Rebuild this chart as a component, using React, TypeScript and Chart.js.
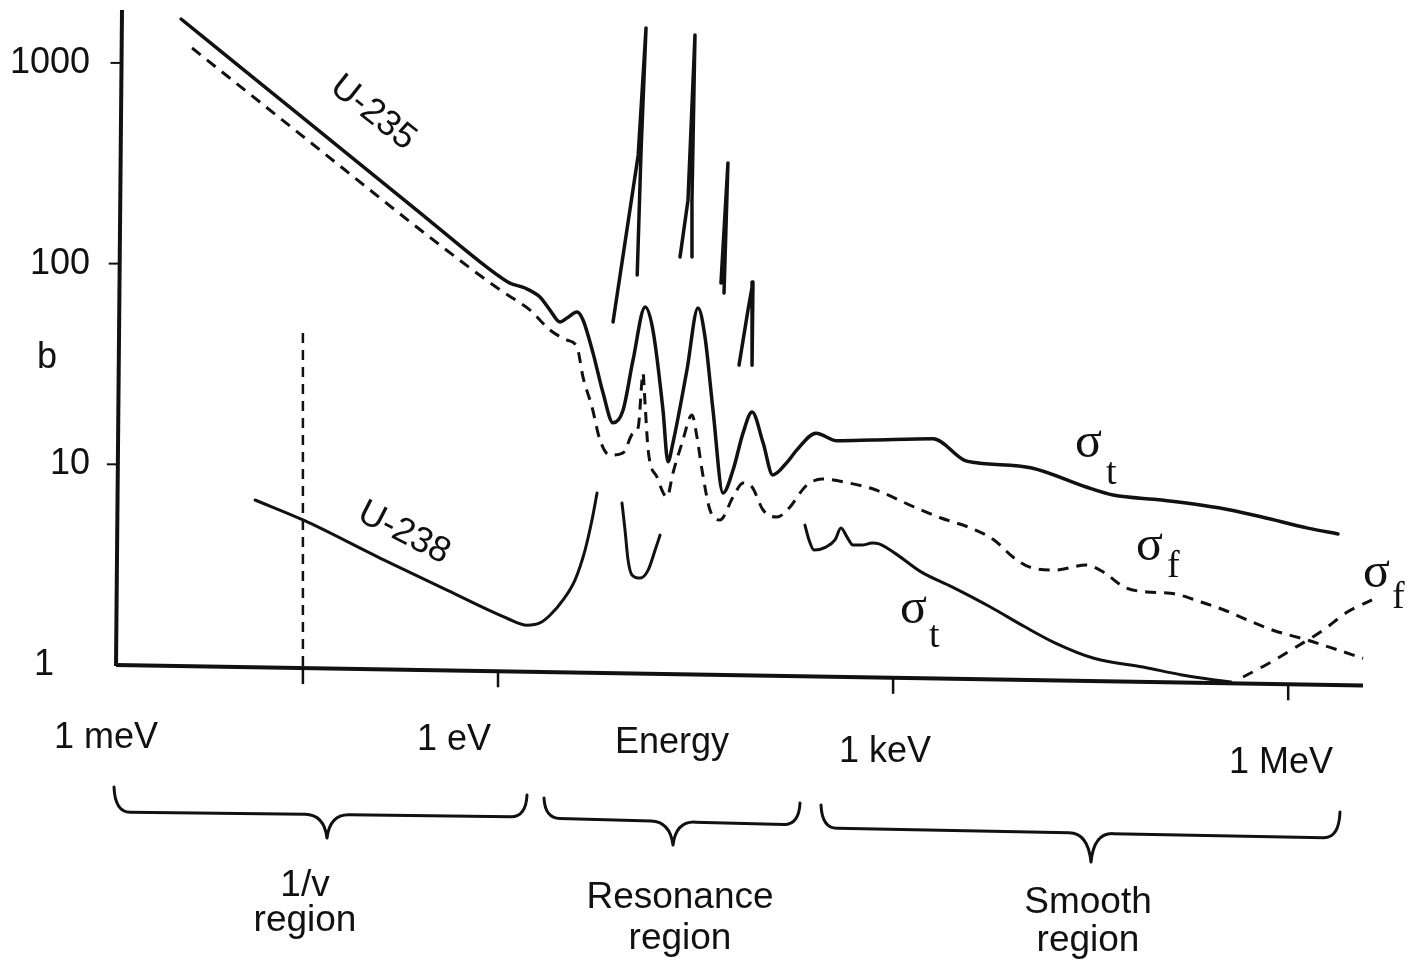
import React, { useEffect, useRef } from 'react';
import { Chart, registerables } from 'chart.js';

Chart.register(...registerables);

// ---------- data (energy in eV, cross section in barns) ----------
const u235TotalEnergy = [0.00392, 0.0156, 0.0631, 0.256, 0.730, 1.04, 1.23, 1.60, 2.08, 2.48, 2.96, 3.34, 3.98, 4.42, 5.26, 6.27, 7.47, 8.90, 10.6, 13.1, 15.0, 17.9, 19.5, 21.3, 27.2, 33.0, 37.3, 42.9, 51.1, 60.9, 72.5, 84.9, 103, 122, 156, 186, 260, 375, 692, 2010, 3450, 4190, 11300, 29200, 46800, 110000, 303000, 632000, 1410000, 2390000];
const u235TotalBarns = [1655, 794, 377, 179, 102, 85.7, 80.0, 75.6, 68.2, 58.7, 51.2, 53.6, 57.4, 52.4, 35.9, 22.7, 16.1, 18.6, 33.1, 60.8, 46.7, 18.6, 10.3, 12.8, 29.5, 60.1, 43.1, 18.6, 7.19, 9.37, 14.3, 18.2, 12.8, 8.85, 10.2, 11.8, 14.3, 13.1, 13.2, 13.4, 10.5, 10.2, 9.59, 7.71, 7.03, 6.64, 6.06, 5.46, 4.81, 4.50];

const u235FissionEnergy = [0.00475, 0.0314, 0.344, 1.04, 1.47, 1.75, 2.48, 3.34, 3.98, 4.42, 5.17, 5.95, 7.08, 8.90, 10.6, 11.6, 12.4, 12.6, 13.1, 13.8, 16.1, 19.2, 21.3, 25.0, 29.7, 32.4, 35.4, 40.7, 48.5, 60.9, 72.5, 84.9, 103, 131, 165, 196, 222, 288, 462, 741, 1440, 2310, 3900, 5840, 8130, 10800, 16900, 29200, 40600, 56600, 84700, 127000, 218000, 326000, 486000, 767000, 1410000, 2110000, 3700000];
const u235FissionBarns = [1186, 442, 127, 73.9, 63.7, 58.7, 46.7, 41.6, 38.4, 27.2, 19.3, 13.2, 11.1, 11.4, 14.3, 15.3, 26.3, 28.5, 19.7, 11.8, 8.64, 6.87, 9.05, 12.8, 17.6, 13.7, 9.37, 5.92, 5.28, 6.87, 8.07, 7.71, 5.92, 5.46, 6.13, 7.19, 7.89, 8.45, 8.07, 7.45, 6.13, 5.40, 4.81, 4.20, 3.45, 3.08, 2.97, 3.15, 2.87, 2.45, 2.31, 2.28, 2.06, 1.88, 1.68, 1.49, 1.33, 1.22, 1.08];

// U-235 resonance peaks (drawn above the averaged curve)
const peak1Energy = [7.47, 11.6, 13.3, 12.2, 11.4];
const peak1Barns = [51.2, 348, 1493, 368, 87.7];
const peak2Energy = [24.1, 27.7, 31.3, 29.7, 29.7];
const peak2Barns = [108, 207, 1377, 207, 108];
const peak3Energy = [49.3, 55.7, 52.0];
const peak3Barns = [80.0, 317, 71.3];
const peak4Energy = [67.6, 79.1, 86.3, 84.9];
const peak4Barns = [31.2, 58.7, 81.0, 31.2];

const u238LowEnergy = [0.0143, 0.0331, 0.127, 0.410, 1.17, 1.66, 2.08, 2.48, 3.12, 3.84, 4.58, 5.17, 5.65];
const u238LowBarns = [6.64, 5.28, 3.41, 2.36, 1.71, 1.58, 1.62, 1.77, 2.11, 2.65, 3.74, 5.28, 7.19];
const u238DipEnergy = [8.74, 9.21, 9.71, 10.4, 12.0, 13.8, 15.6, 17.0];
const u238DipBarns = [6.41, 4.71, 3.34, 2.81, 2.71, 2.97, 3.74, 4.44];
const u238SmoothEnergy = [214, 230, 251, 309, 362, 402, 447, 496, 581, 692, 782, 1030, 1630, 2800, 5440, 10000, 16900, 33500, 79000, 156000, 218000, 368000];
const u238SmoothBarns = [4.98, 4.20, 3.74, 3.87, 4.20, 4.81, 4.34, 3.96, 3.96, 4.05, 4.01, 3.61, 2.91, 2.45, 1.95, 1.55, 1.29, 1.08, 0.977, 0.892, 0.862, 0.823];

const u238FissionEnergy = [454000, 714000, 1150000, 1840000, 2750000, 4330000];
const u238FissionBarns = [0.871, 1.02, 1.23, 1.49, 1.82, 2.11];

const thermalEnergy = [0.033, 0.033];
const thermalBarns = [45.1, 0.96];

const yTickValues = [1, 10, 100, 1000];
const xTickValues = [0.033, 1, 1000, 1000000];

// axis ranges
const X_MIN = 0.001279;
const X_MAX = 3.83e6;
const Y_MIN = 0.777;
const Y_MAX = 1835;
const AXIS_END_B = 0.79; // the scanned x-axis drifts down to the right

// ---------- styling / annotation layout ----------
const INK = '#111';
const SANS = '"Liberation Sans", Arial, Helvetica, sans-serif';
const SERIF = '"Liberation Serif", "DejaVu Serif", "Times New Roman", serif';

const axisTexts = [
  { text: '1 meV', x: 106, y: 738 },
  { text: '1 eV', x: 454, y: 740 },
  { text: 'Energy', x: 672, y: 743 },
  { text: '1 keV', x: 885, y: 752 },
  { text: '1 MeV', x: 1281, y: 763 },
];
const regionTexts = [
  { text: '1/v', x: 305, y: 886 },
  { text: 'region', x: 305, y: 921 },
  { text: 'Resonance', x: 680, y: 898 },
  { text: 'region', x: 680, y: 939 },
  { text: 'Smooth', x: 1088, y: 903 },
  { text: 'region', x: 1088, y: 941 },
];
const braces = [
  { x1: 114, y1: 787, yl: 812, xt: 327, yt: 838, yr: 817, x2: 527, y2: 795 },
  { x1: 544, y1: 798, yl: 818, xt: 673, yt: 845, yr: 825, x2: 800, y2: 803 },
  { x1: 821, y1: 805, yl: 828, xt: 1091, yt: 862, yr: 838, x2: 1340, y2: 812 },
];
const sigmaLabels = [
  { sub: 't', x: 1077, y: 457, sx: 1106, sy: 484 },
  { sub: 'f', x: 1138, y: 560, sx: 1167, sy: 577 },
  { sub: 't', x: 902, y: 623, sx: 929, sy: 647 },
  { sub: 'f', x: 1365, y: 587, sx: 1392, sy: 608 },
];
const isotopeLabels = [
  { text: 'U-235', x: 373, y: 113, angle: 38.5 },
  { text: 'U-238', x: 404, y: 533, angle: 27 },
];

const pts = (e: number[], b: number[]) => e.map((x, i) => ({ x, y: b[i] }));

function curve(e: number[], b: number[], opts: any) {
  return {
    data: pts(e, b),
    showLine: true,
    pointRadius: 0,
    borderColor: INK,
    borderWidth: 3,
    fill: false,
    borderCapStyle: 'round',
    borderJoinStyle: 'round',
    ...opts,
  };
}

const decorPlugin = {
  id: 'decor',
  afterDatasetsDraw(chart: any) {
    const { ctx, chartArea } = chart;
    const xs = chart.scales.x;
    const ys = chart.scales.y;
    const X = (v: number) => xs.getPixelForValue(v);
    const Y = (v: number) => ys.getPixelForValue(v);
    ctx.save();
    ctx.strokeStyle = INK;
    ctx.fillStyle = INK;
    ctx.lineCap = 'butt';

    // y axis (slightly tilted like the scan)
    const yTopX = chartArea.left + 5;
    const yBotX = chartArea.left - 1;
    const yBot = Y(1) + 1;
    ctx.lineWidth = 4;
    ctx.beginPath();
    ctx.moveTo(yTopX, chartArea.top);
    ctx.lineTo(yBotX, yBot);
    ctx.stroke();

    // y tick marks
    ctx.lineWidth = 2;
    [10, 100, 1000].forEach((v) => {
      const py = Y(v);
      const ax = yTopX + (yBotX - yTopX) * ((py - chartArea.top) / (yBot - chartArea.top));
      ctx.beginPath();
      ctx.moveTo(ax - 11, py);
      ctx.lineTo(ax, py);
      ctx.stroke();
    });

    // x axis
    const a0 = { x: chartArea.left - 1, y: Y(1) };
    const a1 = { x: X(X_MAX) - 2, y: Y(AXIS_END_B) };
    ctx.lineWidth = 4;
    ctx.beginPath();
    ctx.moveTo(a0.x, a0.y);
    ctx.lineTo(a1.x, a1.y);
    ctx.stroke();
    const axisY = (px: number) => a0.y + ((px - a0.x) * (a1.y - a0.y)) / (a1.x - a0.x);
    ctx.lineWidth = 2.5;
    xTickValues.forEach((v) => {
      const px = X(v);
      const ay = axisY(px);
      ctx.beginPath();
      ctx.moveTo(px, ay);
      ctx.lineTo(px, ay + 16);
      ctx.stroke();
    });

    // "b" unit label
    ctx.font = `36px ${SANS}`;
    ctx.textAlign = 'center';
    ctx.textBaseline = 'middle';
    ctx.fillText('b', 47, Y(33.9));

    // energy labels
    axisTexts.forEach((t) => ctx.fillText(t.text, t.x, t.y));
    ctx.font = `37px ${SANS}`;
    regionTexts.forEach((t) => ctx.fillText(t.text, t.x, t.y));

    // braces
    ctx.lineWidth = 3;
    ctx.lineJoin = 'round';
    ctx.lineCap = 'round';
    braces.forEach((b) => {
      const ym = (b.yl + b.yr) / 2;
      const lvl = (x: number) => b.yl + ((x - b.x1) * (b.yr - b.yl)) / (b.x2 - b.x1);
      ctx.beginPath();
      ctx.moveTo(b.x1, b.y1);
      ctx.quadraticCurveTo(b.x1 + 1, lvl(b.x1 + 14), b.x1 + 16, lvl(b.x1 + 16));
      ctx.lineTo(b.xt - 22, lvl(b.xt - 22));
      ctx.quadraticCurveTo(b.xt - 3, ym, b.xt, b.yt);
      ctx.quadraticCurveTo(b.xt + 3, ym, b.xt + 22, lvl(b.xt + 22));
      ctx.lineTo(b.x2 - 16, lvl(b.x2 - 16));
      ctx.quadraticCurveTo(b.x2 - 1, lvl(b.x2 - 14), b.x2, b.y2);
      ctx.stroke();
    });

    // isotope labels along the 1/v lines
    ctx.font = `36px ${SANS}`;
    isotopeLabels.forEach((l) => {
      ctx.save();
      ctx.translate(l.x, l.y);
      ctx.rotate((l.angle * Math.PI) / 180);
      ctx.textAlign = 'center';
      ctx.textBaseline = 'middle';
      ctx.fillText(l.text, 0, 0);
      ctx.restore();
    });

    // sigma labels
    ctx.textAlign = 'left';
    ctx.textBaseline = 'alphabetic';
    sigmaLabels.forEach((s) => {
      ctx.font = `50px ${SERIF}`;
      ctx.fillText('\u03c3', s.x - 2, s.y);
      ctx.font = `38px ${SERIF}`;
      ctx.fillText(s.sub, s.sx, s.sy);
    });

    ctx.restore();
  },
};

export default function App() {
  const ref = useRef<HTMLCanvasElement>(null);
  useEffect(() => {
    document.body.style.margin = '0';
    document.body.style.background = '#fff';
    const canvas = ref.current;
    if (!canvas) return;
    const smooth = { cubicInterpolationMode: 'monotone' };
    const datasets: any[] = [
      curve(u235TotalEnergy, u235TotalBarns, { ...smooth, borderWidth: 3.5 }),
      curve(u235FissionEnergy, u235FissionBarns, { ...smooth, borderDash: [11, 8], borderCapStyle: 'butt' }),
      curve(peak1Energy, peak1Barns, { borderWidth: 3.5 }),
      curve(peak2Energy, peak2Barns, { borderWidth: 3.5 }),
      curve(peak3Energy, peak3Barns, { borderWidth: 3.5 }),
      curve(peak4Energy, peak4Barns, { borderWidth: 3.5 }),
      curve(u238LowEnergy, u238LowBarns, smooth),
      curve(u238DipEnergy, u238DipBarns, smooth),
      curve(u238SmoothEnergy, u238SmoothBarns, smooth),
      curve(u238FissionEnergy, u238FissionBarns, { ...smooth, borderDash: [11, 9], borderCapStyle: 'butt', clip: false }),
      curve(thermalEnergy, thermalBarns, { borderWidth: 2.5, borderDash: [10, 7], borderCapStyle: 'butt' }),
    ];
    const chart = new Chart(canvas, {
      type: 'scatter',
      data: { datasets },
      options: {
        responsive: false,
        animation: false,
        events: [],
        layout: { padding: { top: 10, right: 54, bottom: 274, left: 0 } },
        plugins: { legend: { display: false }, tooltip: { enabled: false } },
        scales: {
          x: { type: 'logarithmic', min: X_MIN, max: X_MAX, display: false },
          y: {
            type: 'logarithmic',
            min: Y_MIN,
            max: Y_MAX,
            border: { display: false },
            grid: { display: false, drawTicks: false },
            afterBuildTicks: (s: any) => {
              s.ticks = yTickValues.map((v) => ({ value: v }));
            },
            afterFit: (s: any) => {
              s.width = 117;
              s.paddingTop = 0;
              s.paddingBottom = 0;
            },
            ticks: {
              autoSkip: false,
              padding: 27,
              color: INK,
              font: { family: SANS, size: 36 },
              callback: (v: any) => (Number(v) === 1 ? '1\u2003' : String(v)),
            },
          },
        },
      } as any,
      plugins: [decorPlugin],
    } as any);
    return () => chart.destroy();
  }, []);
  return <canvas ref={ref} width={1419} height={961} style={{ display: 'block' }} />;
}
